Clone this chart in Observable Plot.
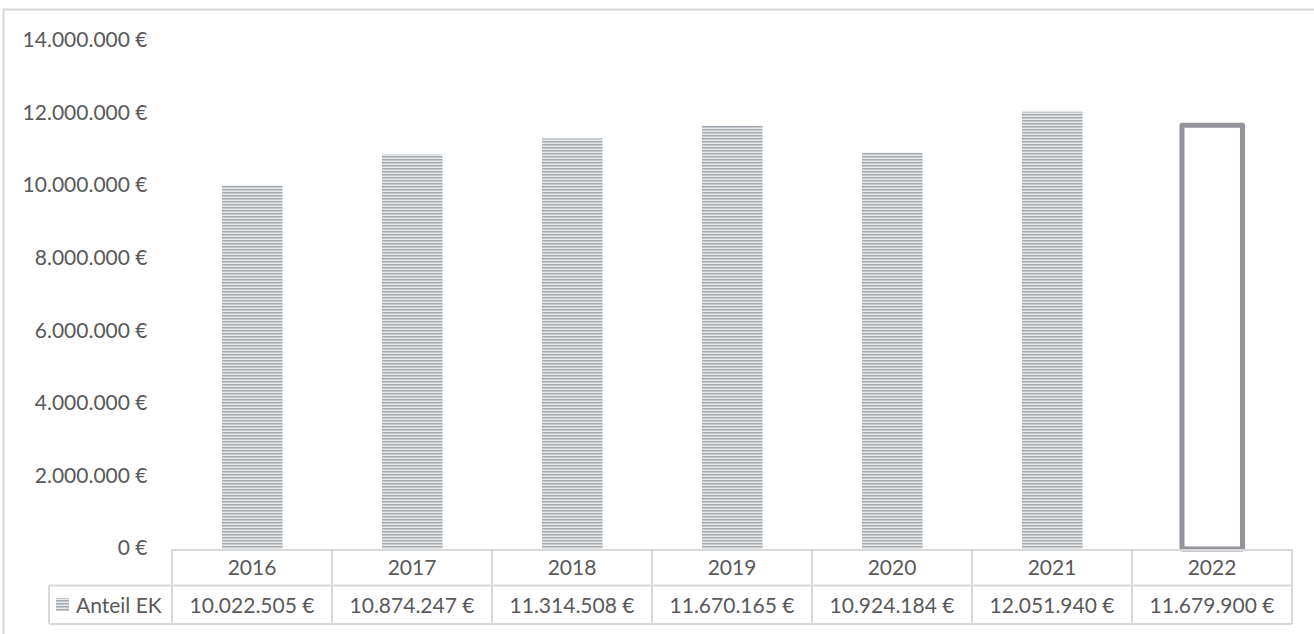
<!DOCTYPE html>
<html>
<head>
<meta charset="utf-8">
<script src="https://cdn.jsdelivr.net/npm/d3@7"></script>
<script src="https://cdn.jsdelivr.net/npm/@observablehq/plot@0.6"></script>
<style>
  html, body { margin: 0; padding: 0; background: #fff; }
  #chart { position: relative; width: 1314px; height: 634px; overflow: hidden; }
  svg { font-family: Lato, "Open Sans", sans-serif; }
</style>
</head>
<body>
<div id="chart"></div>
<script>
const years = ["2016", "2017", "2018", "2019", "2020", "2021", "2022"];
const values = [10022505, 10874247, 11314508, 11670165, 10924184, 12051940, 11679900];
const forecast = [false, false, false, false, false, false, true];
const seriesName = "Anteil EK";
const yTicks = [0, 2000000, 4000000, 6000000, 8000000, 10000000, 12000000, 14000000];

const data = years.map((y, i) => ({year: y, value: values[i], forecast: forecast[i]}));
const fmt = v => new Intl.NumberFormat("de-DE").format(v) + " €";

const W = 1314, H = 634;
const textColor = "#595959";
const gridColor = "#d9d9d9";
const fontSize = 21;

const plot = Plot.plot({
  width: W,
  height: H,
  marginLeft: 170,
  marginRight: 21,
  marginTop: 41,
  marginBottom: 85,
  style: {fontFamily: "Lato, 'Open Sans', sans-serif", fontSize: fontSize + "px", color: textColor, background: "white"},
  x: {domain: years, padding: 0, axis: null},
  y: {domain: [0, 14000000], axis: null},
  marks: [
    Plot.barY(data.filter(d => !d.forecast), {
      x: "year", y: "value", fill: "url(#stripes)", insetLeft: 50, insetRight: 49.5
    }),
    Plot.barY(data.filter(d => d.forecast), {
      x: "year", y: "value", fill: "white", stroke: "#939399", strokeWidth: 5,
      insetLeft: 50, insetRight: 49.5, strokeLinejoin: "round"
    }),
    Plot.axisY({
      ticks: yTicks, tickFormat: fmt, tickSize: 0, tickPadding: 23, label: null,
      fontSize: fontSize, fill: textColor, dy: -1
    })
  ]
});

const svg = d3.select(plot);
// stripe pattern
const defs = svg.insert("defs", ":first-child");
const pat = defs.append("pattern").attr("id", "stripes").attr("patternUnits", "userSpaceOnUse")
  .attr("width", 8).attr("height", 3);
pat.append("rect").attr("width", 8).attr("height", 3).attr("fill", "#e6e8ea");
pat.append("rect").attr("width", 8).attr("height", 1.5).attr("fill", "#a6abaf");

const x = plot.scale("x");
const y = plot.scale("y");
const bw = x.bandwidth;
const xs = years.map(d => x.apply(d));
const xLeft = xs[0], xRight = xs[xs.length - 1] + bw;
const y0 = y.apply(0);
const rowMid = y0 + 36.5;
const rowBot = y0 + 75;
const legendLeft = 49;

const g = svg.append("g").attr("class", "table").attr("text-anchor", "start");
// outer chart border (top and left)
g.append("line").attr("x1", 3).attr("x2", W).attr("y1", 9.5).attr("y2", 9.5).attr("stroke", gridColor).attr("stroke-width", 2);
g.append("line").attr("x1", 3.5).attr("x2", 3.5).attr("y1", 9).attr("y2", H).attr("stroke", gridColor).attr("stroke-width", 2);
// horizontal table lines
g.append("line").attr("x1", xLeft).attr("x2", xRight).attr("y1", y0 + 1).attr("y2", y0 + 1).attr("stroke", gridColor).attr("stroke-width", 2);
g.append("line").attr("x1", legendLeft).attr("x2", xRight).attr("y1", rowMid).attr("y2", rowMid).attr("stroke", gridColor).attr("stroke-width", 2);
g.append("line").attr("x1", legendLeft).attr("x2", xRight).attr("y1", rowBot).attr("y2", rowBot).attr("stroke", gridColor).attr("stroke-width", 2);
// vertical table lines
[...xs, xRight].forEach(xv => {
  g.append("line").attr("x1", xv).attr("x2", xv).attr("y1", y0).attr("y2", rowBot).attr("stroke", gridColor).attr("stroke-width", 2);
});
g.append("line").attr("x1", legendLeft).attr("x2", legendLeft).attr("y1", rowMid).attr("y2", rowBot).attr("stroke", gridColor).attr("stroke-width", 2);
// year labels and values
years.forEach((yr, i) => {
  g.append("text").attr("x", xs[i] + bw / 2).attr("y", (y0 + rowMid) / 2 - 0.5).attr("text-anchor", "middle")
    .attr("dominant-baseline", "central").attr("fill", textColor).attr("font-size", fontSize).text(yr);
  g.append("text").attr("x", xs[i] + bw / 2).attr("y", (rowMid + rowBot) / 2).attr("text-anchor", "middle")
    .attr("dominant-baseline", "central").attr("fill", textColor).attr("font-size", fontSize).text(fmt(values[i]));
});
// legend key
g.append("rect").attr("x", 56).attr("y", 598).attr("width", 13).attr("height", 13).attr("fill", "url(#stripes)");
g.append("text").attr("x", 76).attr("y", (rowMid + rowBot) / 2).attr("text-anchor", "start").attr("dominant-baseline", "central")
  .attr("fill", textColor).attr("font-size", fontSize).text(seriesName);

document.getElementById("chart").appendChild(plot);
</script>
</body>
</html>
